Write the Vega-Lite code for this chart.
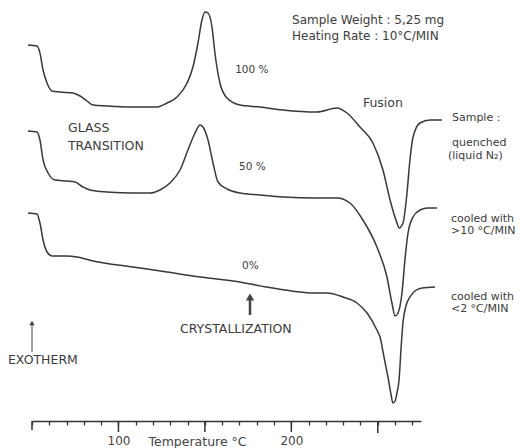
{
  "$schema": "https://vega.github.io/schema/vega-lite/v6.json",
  "width": 389,
  "height": 421,
  "autosize": {"type": "none"},
  "padding": {"left": 32, "top": 0, "right": 100, "bottom": 27},
  "background": "white",
  "config": {"view": {"stroke": null}, "font": "DejaVu Sans"},
  "datasets": {
    "curves": [
      {"s": "100", "T": 47.7, "v": 376}, {"s": "100", "T": 52.9, "v": 375}, {"s": "100", "T": 54.6, "v": 368},
      {"s": "100", "T": 56.4, "v": 351}, {"s": "100", "T": 58.7, "v": 338}, {"s": "100", "T": 61.6, "v": 330},
      {"s": "100", "T": 66.2, "v": 329}, {"s": "100", "T": 73.7, "v": 328}, {"s": "100", "T": 77.8, "v": 325},
      {"s": "100", "T": 81.8, "v": 320}, {"s": "100", "T": 85.3, "v": 316}, {"s": "100", "T": 93.4, "v": 315},
      {"s": "100", "T": 108.4, "v": 314}, {"s": "100", "T": 122.3, "v": 314}, {"s": "100", "T": 128.1, "v": 318},
      {"s": "100", "T": 133.9, "v": 324}, {"s": "100", "T": 139.7, "v": 338}, {"s": "100", "T": 143.1, "v": 354},
      {"s": "100", "T": 146.0, "v": 378}, {"s": "100", "T": 148.3, "v": 401}, {"s": "100", "T": 150.1, "v": 409},
      {"s": "100", "T": 151.8, "v": 408}, {"s": "100", "T": 154.1, "v": 394}, {"s": "100", "T": 155.8, "v": 368},
      {"s": "100", "T": 158.7, "v": 338}, {"s": "100", "T": 162.8, "v": 323}, {"s": "100", "T": 170.3, "v": 316},
      {"s": "100", "T": 181.9, "v": 314}, {"s": "100", "T": 195.2, "v": 311}, {"s": "100", "T": 214.8, "v": 309},
      {"s": "100", "T": 226.4, "v": 313}, {"s": "100", "T": 232.2, "v": 308}, {"s": "100", "T": 239.7, "v": 294},
      {"s": "100", "T": 247.2, "v": 278}, {"s": "100", "T": 253.0, "v": 251}, {"s": "100", "T": 257.1, "v": 221},
      {"s": "100", "T": 261.1, "v": 198}, {"s": "100", "T": 262.3, "v": 193}, {"s": "100", "T": 264.6, "v": 198},
      {"s": "100", "T": 266.9, "v": 228}, {"s": "100", "T": 268.6, "v": 261}, {"s": "100", "T": 270.4, "v": 284},
      {"s": "100", "T": 274.4, "v": 298}, {"s": "100", "T": 280.2, "v": 301}, {"s": "100", "T": 287.1, "v": 301},

      {"s": "50", "T": 47.7, "v": 290}, {"s": "50", "T": 52.9, "v": 289}, {"s": "50", "T": 54.6, "v": 281},
      {"s": "50", "T": 56.4, "v": 261}, {"s": "50", "T": 59.3, "v": 248}, {"s": "50", "T": 63.3, "v": 241},
      {"s": "50", "T": 70.2, "v": 240}, {"s": "50", "T": 74.9, "v": 239}, {"s": "50", "T": 79.5, "v": 234},
      {"s": "50", "T": 83.5, "v": 231}, {"s": "50", "T": 93.4, "v": 229}, {"s": "50", "T": 108.4, "v": 228},
      {"s": "50", "T": 118.3, "v": 228}, {"s": "50", "T": 124.0, "v": 231}, {"s": "50", "T": 129.8, "v": 238},
      {"s": "50", "T": 135.6, "v": 251}, {"s": "50", "T": 140.2, "v": 271}, {"s": "50", "T": 144.3, "v": 288},
      {"s": "50", "T": 147.2, "v": 296}, {"s": "50", "T": 148.9, "v": 294}, {"s": "50", "T": 151.8, "v": 281},
      {"s": "50", "T": 154.7, "v": 258}, {"s": "50", "T": 157.6, "v": 239}, {"s": "50", "T": 162.8, "v": 232},
      {"s": "50", "T": 170.3, "v": 228}, {"s": "50", "T": 181.9, "v": 226}, {"s": "50", "T": 195.2, "v": 224},
      {"s": "50", "T": 214.8, "v": 223}, {"s": "50", "T": 226.4, "v": 223}, {"s": "50", "T": 233.9, "v": 218},
      {"s": "50", "T": 241.4, "v": 201}, {"s": "50", "T": 249.5, "v": 174}, {"s": "50", "T": 255.3, "v": 144},
      {"s": "50", "T": 258.2, "v": 118}, {"s": "50", "T": 260.0, "v": 105}, {"s": "50", "T": 261.7, "v": 108},
      {"s": "50", "T": 264.0, "v": 128}, {"s": "50", "T": 265.7, "v": 161}, {"s": "50", "T": 267.5, "v": 188},
      {"s": "50", "T": 270.4, "v": 204}, {"s": "50", "T": 274.4, "v": 211}, {"s": "50", "T": 279.0, "v": 213},
      {"s": "50", "T": 284.2, "v": 213},

      {"s": "0", "T": 47.7, "v": 208}, {"s": "0", "T": 52.9, "v": 207}, {"s": "0", "T": 54.6, "v": 198},
      {"s": "0", "T": 56.4, "v": 181}, {"s": "0", "T": 58.7, "v": 169}, {"s": "0", "T": 61.6, "v": 165},
      {"s": "0", "T": 70.2, "v": 165}, {"s": "0", "T": 76.0, "v": 164}, {"s": "0", "T": 85.3, "v": 160},
      {"s": "0", "T": 108.4, "v": 154}, {"s": "0", "T": 128.1, "v": 149}, {"s": "0", "T": 147.2, "v": 144},
      {"s": "0", "T": 166.3, "v": 140}, {"s": "0", "T": 185.9, "v": 134}, {"s": "0", "T": 205.0, "v": 129},
      {"s": "0", "T": 210.8, "v": 128}, {"s": "0", "T": 220.6, "v": 128}, {"s": "0", "T": 229.9, "v": 124},
      {"s": "0", "T": 238.0, "v": 118}, {"s": "0", "T": 243.8, "v": 108}, {"s": "0", "T": 249.5, "v": 91},
      {"s": "0", "T": 251.3, "v": 84}, {"s": "0", "T": 253.6, "v": 64}, {"s": "0", "T": 256.2, "v": 41},
      {"s": "0", "T": 257.7, "v": 26}, {"s": "0", "T": 258.8, "v": 18}, {"s": "0", "T": 260.0, "v": 20},
      {"s": "0", "T": 261.1, "v": 28}, {"s": "0", "T": 262.3, "v": 41}, {"s": "0", "T": 263.4, "v": 71},
      {"s": "0", "T": 264.6, "v": 99}, {"s": "0", "T": 266.3, "v": 115}, {"s": "0", "T": 268.6, "v": 124},
      {"s": "0", "T": 271.5, "v": 130}, {"s": "0", "T": 275.6, "v": 133}, {"s": "0", "T": 283.1, "v": 134}
    ],
    "labels": [
      {"T": 200.4, "v": 401, "text": "Sample Weight : 5,25 mg", "k": "note"},
      {"T": 200.4, "v": 385, "text": "Heating Rate : 10°C/MIN", "k": "note"},
      {"T": 167.5, "v": 351, "text": "100 %", "k": "pct"},
      {"T": 241.4, "v": 318, "text": "Fusion", "k": "caps"},
      {"T": 292.9, "v": 303, "text": "Sample :", "k": "side"},
      {"T": 292.9, "v": 278, "text": "quenched", "k": "side"},
      {"T": 290.6, "v": 265, "text": "(liquid N₂)", "k": "side"},
      {"T": 70.8, "v": 293, "text": "GLASS", "k": "caps"},
      {"T": 70.8, "v": 275, "text": "TRANSITION", "k": "caps"},
      {"T": 169.8, "v": 254, "text": "50 %", "k": "pct"},
      {"T": 292.3, "v": 202, "text": "cooled with", "k": "side"},
      {"T": 292.3, "v": 190, "text": ">10 °C/MIN", "k": "side"},
      {"T": 171.5, "v": 155, "text": "0%", "k": "pct"},
      {"T": 292.3, "v": 124, "text": "cooled with", "k": "side"},
      {"T": 292.3, "v": 112, "text": "<2 °C/MIN", "k": "side"},
      {"T": 135.6, "v": 92, "text": "CRYSTALLIZATION", "k": "caps"},
      {"T": 36.1, "v": 61, "text": "EXOTHERM", "k": "caps"}
    ],
    "arrows": [
      {"T": 50.0, "v1": 69, "v2": 98, "w": "thin"},
      {"T": 176.1, "v1": 106, "v2": 124, "w": "thick"}
    ],
    "majorticks": [
      {"T": 50, "v1": 0, "v2": -9},
      {"T": 100, "v1": 0, "v2": -11},
      {"T": 150, "v1": 0, "v2": -11},
      {"T": 200, "v1": 0, "v2": -11},
      {"T": 250, "v1": 0, "v2": -12}
    ]
  },
  "layer": [
    {
      "data": {"name": "curves"},
      "mark": {"type": "line", "color": "#383838", "strokeWidth": 1.5, "interpolate": "monotone"},
      "encoding": {
        "x": {
          "field": "T", "type": "quantitative",
          "scale": {"domain": [50, 275], "nice": false, "zero": false},
          "axis": {
            "values": [50, 60, 70, 80, 90, 100, 110, 120, 130, 140, 150, 160, 170, 180, 190, 200, 210, 220, 230, 240, 250, 260, 270],
            "tickCount": 100,
            "labelExpr": "(datum.value == 100 || datum.value == 200) ? datum.label : ''",
            "tickSize": 4,
            "grid": false,
            "domainColor": "#333", "domainWidth": 1.5,
            "tickColor": "#333", "tickWidth": 1.3,
            "labelFont": "DejaVu Sans", "labelFontSize": 12, "labelColor": "#444",
            "labelPadding": 10, "labelFlush": false, "labelOverlap": false, "labelBound": false,
            "title": "Temperature °C", "titleFont": "DejaVu Sans", "titleFontSize": 12.5,
            "titleFontWeight": "normal", "titleColor": "#444",
            "titleX": 165, "titleY": 24, "titleAlign": "center", "titleBaseline": "alphabetic"
          }
        },
        "y": {"field": "v", "type": "quantitative", "scale": {"domain": [0, 421], "nice": false, "zero": false}, "axis": null},
        "detail": {"field": "s", "type": "nominal"}
      }
    },
    {
      "data": {"name": "majorticks"},
      "mark": {"type": "rule", "color": "#333", "strokeWidth": 1.5},
      "encoding": {
        "x": {"field": "T", "type": "quantitative"},
        "y": {"field": "v1", "type": "quantitative"},
        "y2": {"field": "v2"}
      }
    },
    {
      "data": {"name": "labels"},
      "transform": [{"filter": "datum.k == 'note'"}],
      "mark": {"type": "text", "align": "left", "baseline": "middle", "font": "DejaVu Sans", "fontSize": 12, "color": "#3c3c3c"},
      "encoding": {
        "x": {"field": "T", "type": "quantitative"},
        "y": {"field": "v", "type": "quantitative"},
        "text": {"field": "text", "type": "nominal"}
      }
    },
    {
      "data": {"name": "labels"},
      "transform": [{"filter": "datum.k == 'pct'"}],
      "mark": {"type": "text", "align": "left", "baseline": "middle", "font": "DejaVu Sans", "fontSize": 10.5, "color": "#3c3c3c"},
      "encoding": {
        "x": {"field": "T", "type": "quantitative"},
        "y": {"field": "v", "type": "quantitative"},
        "text": {"field": "text", "type": "nominal"}
      }
    },
    {
      "data": {"name": "labels"},
      "transform": [{"filter": "datum.k == 'side'"}],
      "mark": {"type": "text", "align": "left", "baseline": "middle", "font": "DejaVu Sans", "fontSize": 11, "color": "#3c3c3c"},
      "encoding": {
        "x": {"field": "T", "type": "quantitative"},
        "y": {"field": "v", "type": "quantitative"},
        "text": {"field": "text", "type": "nominal"}
      }
    },
    {
      "data": {"name": "labels"},
      "transform": [{"filter": "datum.k == 'caps'"}],
      "mark": {"type": "text", "align": "left", "baseline": "middle", "font": "DejaVu Sans", "fontSize": 12.5, "color": "#3c3c3c"},
      "encoding": {
        "x": {"field": "T", "type": "quantitative"},
        "y": {"field": "v", "type": "quantitative"},
        "text": {"field": "text", "type": "nominal"}
      }
    },
    {
      "data": {"name": "arrows"},
      "transform": [{"filter": "datum.w == 'thin'"}],
      "mark": {"type": "rule", "color": "#444", "strokeWidth": 1},
      "encoding": {
        "x": {"field": "T", "type": "quantitative"},
        "y": {"field": "v1", "type": "quantitative"},
        "y2": {"field": "v2"}
      }
    },
    {
      "data": {"name": "arrows"},
      "transform": [{"filter": "datum.w == 'thick'"}],
      "mark": {"type": "rule", "color": "#444", "strokeWidth": 2.5},
      "encoding": {
        "x": {"field": "T", "type": "quantitative"},
        "y": {"field": "v1", "type": "quantitative"},
        "y2": {"field": "v2"}
      }
    },
    {
      "data": {"name": "arrows"},
      "transform": [{"filter": "datum.w == 'thin'"}],
      "mark": {"type": "point", "shape": "triangle-up", "filled": true, "color": "#444", "opacity": 1, "size": 30},
      "encoding": {
        "x": {"field": "T", "type": "quantitative"},
        "y": {"field": "v2", "type": "quantitative"}
      }
    },
    {
      "data": {"name": "arrows"},
      "transform": [{"filter": "datum.w == 'thick'"}],
      "mark": {"type": "point", "shape": "triangle-up", "filled": true, "color": "#444", "opacity": 1, "size": 70},
      "encoding": {
        "x": {"field": "T", "type": "quantitative"},
        "y": {"field": "v2", "type": "quantitative"}
      }
    }
  ]
}
